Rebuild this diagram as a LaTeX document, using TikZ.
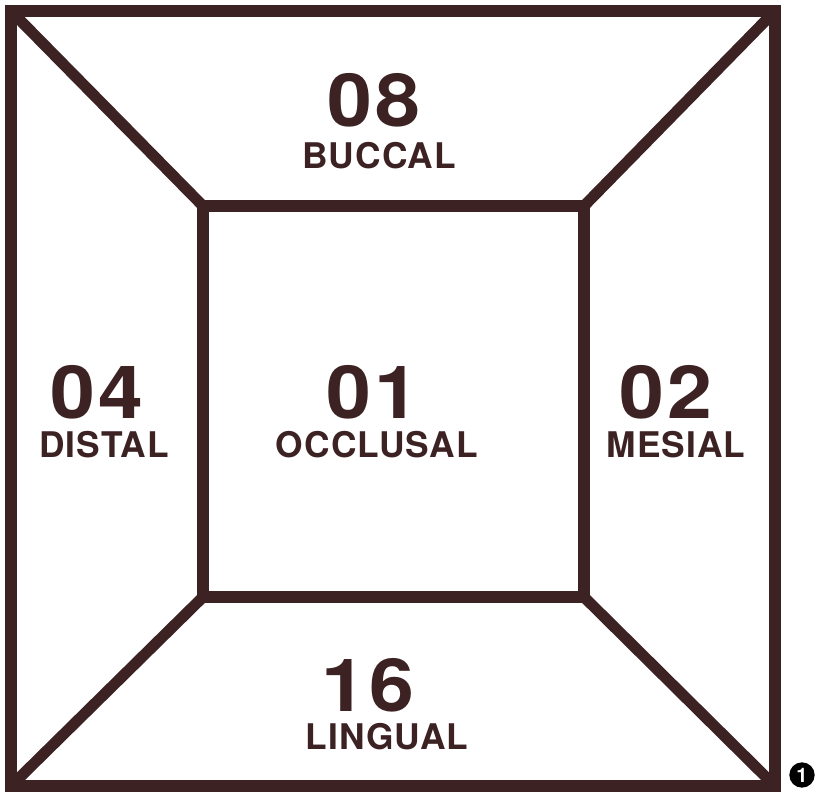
\documentclass[tikz,border=0pt]{standalone}
\usepackage{fontspec}
\setmainfont{TeX Gyre Heros}
\usepackage{xcolor}
\usepackage{tikz}
\definecolor{toothbrown}{HTML}{3C2222}

\begin{document}
\begin{tikzpicture}[x=0.75pt,y=-0.75pt,
    wall/.style={line width=8.3pt, draw=toothbrown, line join=miter},
    num/.style={inner sep=0pt, text=toothbrown,
                font=\fontsize{55}{55}\selectfont\bfseries\addfontfeature{FakeStretch=1.1,LetterSpace=5}},
    srf/.style={inner sep=0pt, text=toothbrown,
                font=\fontsize{26.5}{26.5}\selectfont\bfseries\addfontfeature{LetterSpace=3}}]

  \useasboundingbox (0,0) rectangle (818,793);

  % -- corners: outer square (the tooth) and inner square (occlusal face) --
  \coordinate (otl) at (11,11);   \coordinate (otr) at (775,11);
  \coordinate (obr) at (775,786); \coordinate (obl) at (11,786);
  \coordinate (itl) at (203,206); \coordinate (itr) at (584,206);
  \coordinate (ibr) at (584,597); \coordinate (ibl) at (203,597);

  \draw[wall] (otl) -- (otr) -- (obr) -- (obl) -- cycle;
  \draw[wall] (itl) -- (itr) -- (ibr) -- (ibl) -- cycle;
  \foreach \c in {tl,tr,br,bl}{
    \draw[wall] (o\c) -- (i\c);}

  % -- surface codes, number above name --
  \foreach \nx/\ny/\lx/\ly/\n/\s in {%
      374/100/379/156/08/BUCCAL,       % top
      97/392/104/445/04/DISTAL,        % left
      373/392/377/445/01/OCCLUSAL,     % centre
      666/392/676/445/02/MESIAL,       % right
      368/685/387/737/16/LINGUAL}{     % bottom
    \node[num] (num\n) at (\nx,\ny) {\n};
    \node[srf] (srf\n) at (\lx,\ly) {\s};}

  % -- figure marker --
  \node[circle, fill=black, text=white, inner sep=0pt, minimum size=19pt,
        font=\fontsize{15}{15}\selectfont\bfseries] (mark) at (802,775) {1};
\end{tikzpicture}
\end{document}
